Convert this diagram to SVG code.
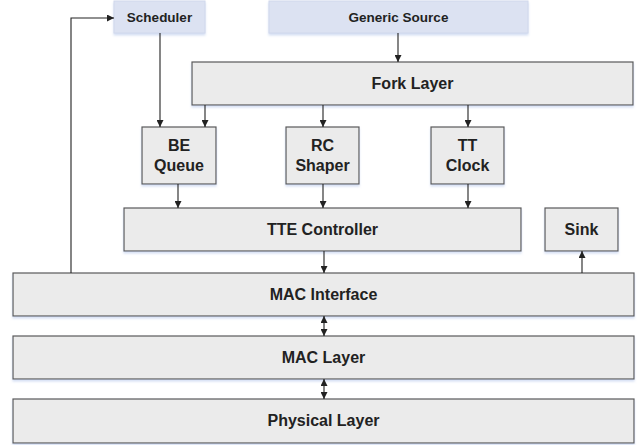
<svg xmlns="http://www.w3.org/2000/svg" width="644" height="445" viewBox="0 0 644 445">
  <style>
    .box { fill: #ebebeb; stroke: #595959; stroke-width: 1.2; filter: url(#shadow); }
    .src { fill: #dce2f2; stroke: #d0d8ec; stroke-width: 1; filter: url(#shadow); }
    .lbl { font-family: "Liberation Sans", Arial, sans-serif; font-weight: bold; font-size: 16px; fill: #222; text-anchor: middle; }
    .sm { font-size: 13.5px; }
    .wire { fill: none; stroke: #222; stroke-width: 1.1; }
  </style>
  <defs>
    <filter id="shadow" x="-5%" y="-20%" width="110%" height="150%">
      <feDropShadow dx="0" dy="2" stdDeviation="1.2" flood-color="#c4d2ef" flood-opacity="0.7"/>
    </filter>
    <marker id="ah" viewBox="0 0 8 8" refX="8" refY="4" markerWidth="7" markerHeight="7" markerUnits="userSpaceOnUse" orient="auto-start-reverse">
      <path d="M0,0 L8,4 L0,8 z" fill="#222"/>
    </marker>
  </defs>

  <g id="scheduler">
    <rect class="src" x="114" y="1" width="91" height="32"/>
    <text class="lbl sm" x="159.5" y="22">Scheduler</text>
  </g>
  <g id="generic-source">
    <rect class="src" x="269" y="1" width="259" height="32"/>
    <text class="lbl sm" x="398.5" y="22">Generic Source</text>
  </g>
  <g id="fork-layer">
    <rect class="box" x="192" y="62" width="441" height="43"/>
    <text class="lbl" x="412.5" y="89">Fork Layer</text>
  </g>
  <g id="be-queue">
    <rect class="box" x="142" y="127" width="74" height="57"/>
    <text class="lbl" x="179" y="151">BE</text>
    <text class="lbl" x="179" y="171">Queue</text>
  </g>
  <g id="rc-shaper">
    <rect class="box" x="286" y="127" width="73" height="57"/>
    <text class="lbl" x="322.5" y="151">RC</text>
    <text class="lbl" x="322.5" y="171">Shaper</text>
  </g>
  <g id="tt-clock">
    <rect class="box" x="431" y="127" width="73" height="57"/>
    <text class="lbl" x="467.5" y="151">TT</text>
    <text class="lbl" x="467.5" y="171">Clock</text>
  </g>
  <g id="tte-controller">
    <rect class="box" x="124" y="208" width="397" height="43"/>
    <text class="lbl" x="322.5" y="235">TTE Controller</text>
  </g>
  <g id="sink">
    <rect class="box" x="545" y="208" width="73" height="43"/>
    <text class="lbl" x="581.5" y="235">Sink</text>
  </g>
  <g id="mac-interface">
    <rect class="box" x="13" y="273" width="621" height="43"/>
    <text class="lbl" x="323.5" y="300">MAC Interface</text>
  </g>
  <g id="mac-layer">
    <rect class="box" x="13" y="336" width="621" height="43"/>
    <text class="lbl" x="323.5" y="363">MAC Layer</text>
  </g>
  <g id="physical-layer">
    <rect class="box" x="13" y="399" width="621" height="44"/>
    <text class="lbl" x="323.5" y="426">Physical Layer</text>
  </g>

  <g id="connectors">
    <line class="wire" x1="398" y1="33" x2="398" y2="62" marker-end="url(#ah)"/>
    <line class="wire" x1="160" y1="33" x2="160" y2="127" marker-end="url(#ah)"/>
    <line class="wire" x1="205" y1="105" x2="205" y2="127" marker-end="url(#ah)"/>
    <line class="wire" x1="323" y1="105" x2="323" y2="127" marker-end="url(#ah)"/>
    <line class="wire" x1="468" y1="105" x2="468" y2="127" marker-end="url(#ah)"/>
    <line class="wire" x1="178" y1="184" x2="178" y2="208" marker-end="url(#ah)"/>
    <line class="wire" x1="323" y1="184" x2="323" y2="208" marker-end="url(#ah)"/>
    <line class="wire" x1="468" y1="184" x2="468" y2="208" marker-end="url(#ah)"/>
    <line class="wire" x1="324" y1="251" x2="324" y2="273" marker-end="url(#ah)"/>
    <line class="wire" x1="582" y1="273" x2="582" y2="251" marker-end="url(#ah)"/>
    <polyline class="wire" points="71,273 71,18 114,18" marker-end="url(#ah)"/>
    <line class="wire" x1="324" y1="316" x2="324" y2="336" marker-start="url(#ah)" marker-end="url(#ah)"/>
    <line class="wire" x1="324" y1="379" x2="324" y2="399" marker-start="url(#ah)" marker-end="url(#ah)"/>
  </g>
</svg>
